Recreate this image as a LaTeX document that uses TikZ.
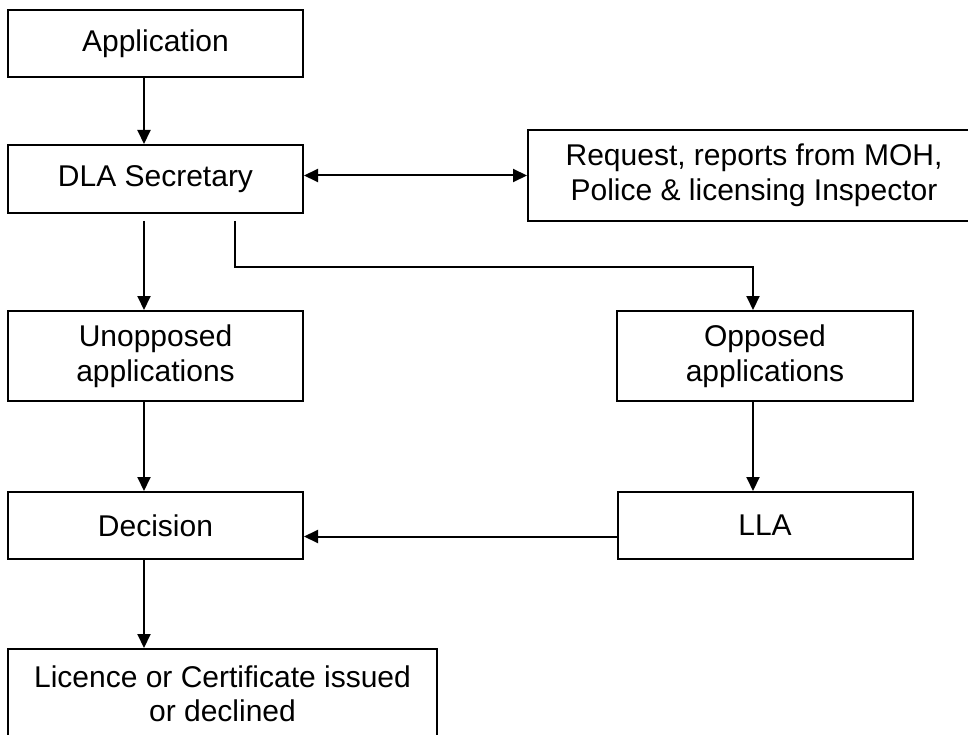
\documentclass[tikz,border=0pt]{standalone}
\usepackage{fontspec}
\setmainfont{Liberation Sans}
\usetikzlibrary{arrows.meta,positioning,calc}

\begin{document}
\begin{tikzpicture}[x=1pt,y=-1pt,
  box/.style={draw,line width=2pt,inner sep=0pt,align=center,
    minimum width=295pt,font=\fontsize{30}{34.5}\selectfont},
  arr/.style={line width=2pt,-{Triangle[length=14pt,width=13pt]}},
  dbl/.style={line width=2pt,{Triangle[length=14pt,width=13pt]}-{Triangle[length=14pt,width=13pt]}}]
  \useasboundingbox (0,0) rectangle (968,735);
  % boxes
  \node[box,minimum height=67pt] (app) at (155.5,43.5) {Application};
  \node[box,minimum height=68pt] (dla) at (155.5,179) {DLA Secretary};
  \node[box,minimum width=452pt,minimum height=91pt] (req) at (754,175.5)
    {Request, reports from MOH,\\Police \& licensing Inspector};
  \node[box,minimum height=90pt] (unop) at (155.5,356) {Unopposed\\applications};
  \node[box,minimum width=296pt,minimum height=90pt] (opp) at (765,356) {Opposed\\applications};
  \node[box,minimum height=67pt] (dec) at (155.5,525.5) {Decision};
  \node[box,minimum height=67pt] (lla) at (765,525.5) {LLA};
  \node[box,minimum width=429pt,minimum height=90pt] (lic) at (222.5,694)
    {Licence or Certificate issued\\or declined};
  % lanes for the connectors
  \coordinate (lane) at (144,0);
  \coordinate (fork) at (235,0);
  \coordinate (opplane) at (753,0);
  \coordinate (llaout) at ([yshift=-11pt]lla.west);
  % connectors
  \draw[arr] (app.south -| lane) -- (dla.north -| lane);
  \draw[dbl] (dla.east |- req.west) -- (req.west);
  \draw[arr,shorten <=7pt] (dla.south -| lane) -- (unop.north -| lane);
  \draw[arr,shorten <=7pt] (dla.south -| fork) -- ++(0,53) -| (opp.north -| opplane);
  \draw[arr] (unop.south -| lane) -- (dec.north -| lane);
  \draw[arr] (opp.south -| opplane) -- (lla.north -| opplane);
  \draw[arr] (llaout) -- (llaout -| dec.east);
  \draw[arr] (dec.south -| lane) -- (lic.north -| lane);
\end{tikzpicture}
\end{document}
